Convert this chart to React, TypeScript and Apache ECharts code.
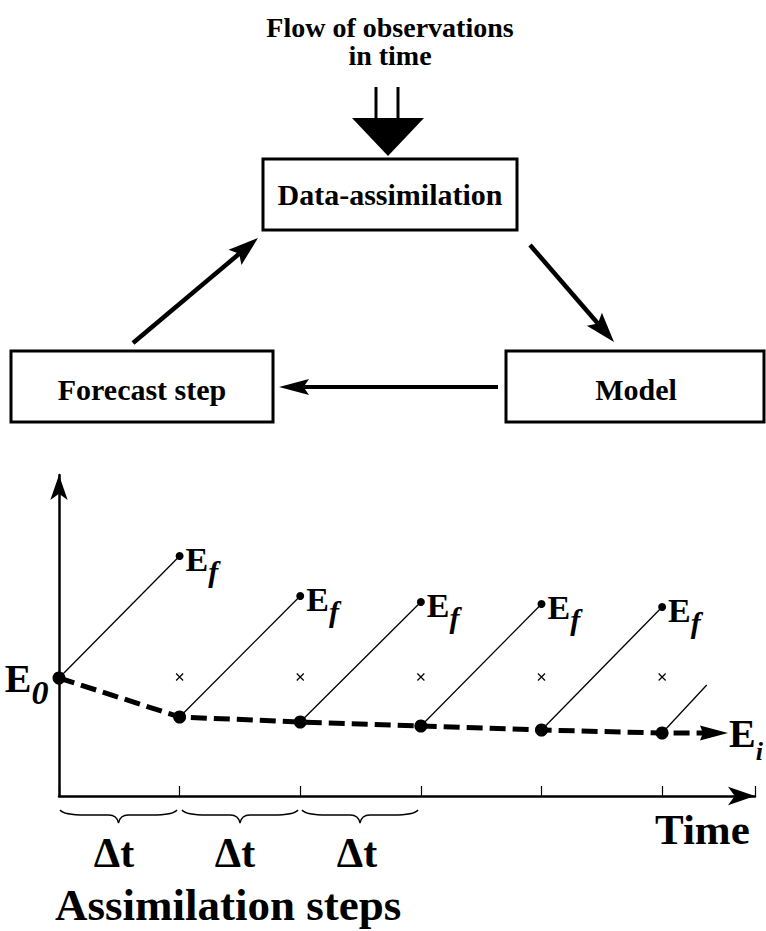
import React, { useEffect, useRef } from 'react';
import * as echarts from 'echarts';

// ---- data ----
const steps = [0, 1, 2, 3, 4, 5];
const analysisValues = [118, 79, 74, 70, 66, 63];
const forecastSteps = [1, 2, 3, 4, 5];
const forecastValues = [240, 200, 194, 192, 189];
const observationSteps = [1, 2, 3, 4, 5];
const observationValues = [119, 119, 119, 119, 119];
const openForecastStep = 5.37;
const openForecastValue = 111;
const analysisArrowStep = 5.43;
const deltaLabels = ['Δt', 'Δt', 'Δt'];
const boxLabels = ['Data-assimilation', 'Forecast step', 'Model'];
const titleLines = ['Flow of observations', 'in time'];

const SERIF = 'Liberation Serif, Times New Roman, serif';

const BracePath = (echarts.graphic as any).extendPath(
  'M0,2 C3,6 12,7 26,7 L50,7 C56,7 59,10 60,15 C61,10 64,7 70,7 L94,7 C108,7 117,6 120,2',
  {}
);
(echarts.graphic as any).registerShape('brace', BracePath);

function arrowEls(x1: number, y1: number, x2: number, y2: number, len: number, hw: number, lw: number) {
  const L = Math.hypot(x2 - x1, y2 - y1);
  const ux = (x2 - x1) / L, uy = (y2 - y1) / L;
  const px = -uy, py = ux;
  const bx = x2 - ux * len, by = y2 - uy * len;
  const nx = x2 - ux * len * 0.82, ny = y2 - uy * len * 0.82;
  return [
    { type: 'line', shape: { x1, y1, x2: nx, y2: ny }, style: { stroke: '#000', lineWidth: lw } },
    {
      type: 'polygon',
      shape: { points: [[x2, y2], [bx + px * hw, by + py * hw], [nx, ny], [bx - px * hw, by - py * hw]] },
      style: { fill: '#000' },
    },
  ];
}

function txt(text: string, x: number, y: number, size: number, align = 'center', lineHeight?: number) {
  const style: any = {
    text, fill: '#000', fontSize: size, fontWeight: 'bold', fontFamily: SERIF,
    textAlign: align, textVerticalAlign: 'middle',
  };
  if (lineHeight) style.lineHeight = lineHeight;
  return { type: 'text', x, y, style };
}

function rectEl(x: number, y: number, w: number, h: number) {
  return { type: 'rect', shape: { x, y, width: w, height: h }, style: { fill: '#fff', stroke: '#000', lineWidth: 3 } };
}

export default function App() {
  const ref = useRef<HTMLDivElement>(null);
  useEffect(() => {
    const chart = echarts.init(ref.current!, undefined, { renderer: 'svg' });
    const labelE = (size: number, lh: number) => ({ fontSize: size, fontWeight: 'bold', fontFamily: SERIF, color: '#000', lineHeight: lh });
    const labelSub = (size: number, lh: number, pad: number) => ({
      fontSize: size, fontWeight: 'bold', fontStyle: 'italic', fontFamily: SERIF, color: '#000', lineHeight: lh, padding: [pad, 0, 0, 0],
    });

    const graphic: any[] = [
      txt(titleLines.join('\n'), 390, 41, 28, 'center', 28),
      { type: 'line', shape: { x1: 376, y1: 87, x2: 376, y2: 120 }, style: { stroke: '#000', lineWidth: 3 } },
      { type: 'line', shape: { x1: 398, y1: 87, x2: 398, y2: 120 }, style: { stroke: '#000', lineWidth: 3 } },
      { type: 'polygon', shape: { points: [[352, 118], [424, 118], [388, 156]] }, style: { fill: '#000' } },
      rectEl(263, 159, 254, 71),
      txt(boxLabels[0], 390, 194, 30),
      rectEl(11, 351, 262, 71),
      txt(boxLabels[1], 142, 389, 30),
      rectEl(506, 351, 258, 71),
      txt(boxLabels[2], 636, 389, 30),
      ...arrowEls(498, 387, 279, 387, 30, 8, 4),
      ...arrowEls(133, 343, 258, 238, 30, 10, 4.5),
      ...arrowEls(530, 245, 614, 342, 30, 10, 4.5),
      { type: 'brace', x: 60, y: 808, scaleX: 117 / 120, scaleY: 1, style: { stroke: '#000', fill: 'none', lineWidth: 1.4 } },
      { type: 'brace', x: 182, y: 808, scaleX: 116 / 120, scaleY: 1, style: { stroke: '#000', fill: 'none', lineWidth: 1.4 } },
      { type: 'brace', x: 302, y: 808, scaleX: 116 / 120, scaleY: 1, style: { stroke: '#000', fill: 'none', lineWidth: 1.4 } },
      txt(deltaLabels[0], 114, 853, 42),
      txt(deltaLabels[1], 235, 853, 42),
      txt(deltaLabels[2], 357, 853, 42),
      txt('Time', 655, 829, 43, 'left'),
      txt('Assimilation steps', 55, 905, 45, 'left'),
    ];

    const forecastLines = forecastSteps.map((s, i) => ({
      coords: [[steps[i], analysisValues[i]], [s, forecastValues[i]]],
    }));
    forecastLines.push({
      coords: [[steps[steps.length - 1], analysisValues[analysisValues.length - 1]], [openForecastStep, openForecastValue]],
    });

    const analysisCoords = steps.map((s, i) => [s, analysisValues[i]]);
    analysisCoords.push([analysisArrowStep, analysisValues[analysisValues.length - 1]]);

    const option: any = {
      animation: false,
      backgroundColor: '#fff',
      grid: { left: 59, right: 11, top: 475, bottom: 135 },
      xAxis: {
        type: 'value', min: 0, max: 5.77, interval: 1,
        axisLine: { show: true, onZero: true, symbol: ['none', 'arrow'], symbolSize: [14, 27], lineStyle: { color: '#000', width: 2.5 } },
        axisTick: { show: true, inside: true, length: 10, lineStyle: { color: '#000', width: 1.2 } },
        axisLabel: { show: false },
        splitLine: { show: false },
      },
      yAxis: {
        type: 'value', min: 0, max: 321,
        axisLine: { show: true, onZero: true, symbol: ['none', 'arrow'], symbolSize: [13, 25], lineStyle: { color: '#000', width: 2.5 } },
        axisTick: { show: false },
        axisLabel: { show: false },
        splitLine: { show: false },
      },
      graphic,
      series: [
        {
          type: 'lines', coordinateSystem: 'cartesian2d', polyline: false,
          data: forecastLines,
          lineStyle: { color: '#000', width: 1.3, opacity: 1 },
          symbol: ['none', 'none'],
          silent: true,
        },
        {
          type: 'lines', coordinateSystem: 'cartesian2d', polyline: true,
          data: [{ coords: analysisCoords }],
          lineStyle: { color: '#000', width: 5, type: [16, 7], cap: 'butt', opacity: 1 },
          symbol: ['none', 'none'],
          silent: true,
        },
        {
          type: 'scatter',
          data: [[analysisArrowStep, analysisValues[analysisValues.length - 1]]],
          symbol: 'path://M0,0 L28,7 L0,14 L3,7 Z', symbolSize: [28, 15],
          itemStyle: { color: '#000', opacity: 1 },
          label: {
            show: true, position: 'right', distance: 1,
            formatter: '{e|E}{s|i}',
            rich: { e: labelE(40, 44), s: labelSub(26, 44, 36) },
          },
          silent: true,
        },
        {
          type: 'scatter',
          data: steps.map((s, i) => ({
            value: [s, analysisValues[i]],
            label: i === 0 ? {
              show: true, position: 'left', distance: 4,
              formatter: '{e|E}{z|0}',
              rich: { e: labelE(40, 44), z: labelSub(34, 44, 28) },
            } : { show: false },
          })),
          symbol: 'circle', symbolSize: 13,
          itemStyle: { color: '#000', opacity: 1 },
          silent: true,
        },
        {
          type: 'scatter',
          data: forecastSteps.map((s, i) => [s, forecastValues[i]]),
          symbol: 'circle', symbolSize: 8,
          itemStyle: { color: '#000', opacity: 1 },
          label: {
            show: true, position: 'right', distance: 2, offset: [0, 3],
            formatter: '{e|E}{s|f}',
            rich: { e: labelE(34, 40), s: labelSub(30, 40, 24) },
          },
          silent: true,
        },
        {
          type: 'scatter',
          data: observationSteps.map((s, i) => [s, observationValues[i]]),
          symbol: 'path://M0,0L10,10M10,0L0,10', symbolSize: 7,
          itemStyle: { color: 'transparent', borderColor: '#000', borderWidth: 1.2, opacity: 1 },
          silent: true,
        },
      ],
    };
    chart.setOption(option);
    return () => chart.dispose();
  }, []);
  return <div ref={ref} style={{ position: 'absolute', left: 0, top: 0, width: 766, height: 931 }} />;
}
